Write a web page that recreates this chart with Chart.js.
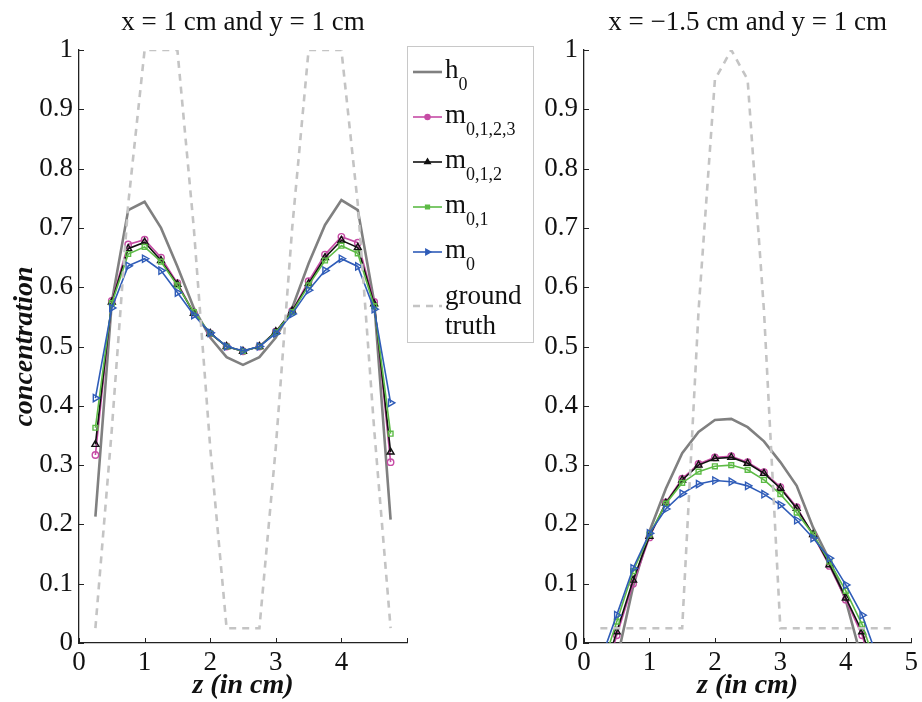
<!DOCTYPE html>
<html>
<head>
<meta charset="utf-8">
<script src="https://cdn.jsdelivr.net/npm/chart.js@4.4.1/dist/chart.umd.min.js"></script>
<style>
  html, body { margin: 0; padding: 0; background: #fff; }
  #wrap { position: relative; width: 922px; height: 702px; overflow: hidden; }
  canvas { position: absolute; top: 0; }
  #leftChart { left: 0; }
  #rightChart { left: 540px; }
</style>
</head>
<body>
<div id="wrap">
  <canvas id="leftChart" width="540" height="702"></canvas>
  <canvas id="rightChart" width="382" height="702"></canvas>
</div>
<script>
// depth positions (cm)
const zPos = [0.25, 0.5, 0.75, 1.0, 1.25, 1.5, 1.75, 2.0, 2.25, 2.5, 2.75, 3.0, 3.25, 3.5, 3.75, 4.0, 4.25, 4.5, 4.75];

// left panel: x = 1 cm, y = 1 cm
const h0Left    = [0.213, 0.575, 0.730, 0.744, 0.700, 0.635, 0.565, 0.515, 0.482, 0.469, 0.482, 0.515, 0.565, 0.640, 0.705, 0.747, 0.730, 0.575, 0.208];
const m0123Left = [0.317, 0.577, 0.672, 0.680, 0.650, 0.607, 0.557, 0.522, 0.500, 0.492, 0.500, 0.525, 0.560, 0.610, 0.655, 0.685, 0.675, 0.575, 0.305];
const m012Left  = [0.335, 0.575, 0.665, 0.676, 0.645, 0.605, 0.556, 0.522, 0.500, 0.492, 0.500, 0.525, 0.560, 0.606, 0.650, 0.679, 0.667, 0.572, 0.322];
const m01Left   = [0.363, 0.573, 0.656, 0.668, 0.643, 0.603, 0.558, 0.522, 0.500, 0.492, 0.500, 0.524, 0.558, 0.603, 0.645, 0.670, 0.657, 0.568, 0.353];
const m0Left    = [0.413, 0.565, 0.636, 0.648, 0.628, 0.591, 0.553, 0.523, 0.500, 0.493, 0.500, 0.522, 0.555, 0.595, 0.628, 0.648, 0.635, 0.563, 0.405];
const gtLeft    = [0.025, 0.360, 0.740, 1.000, 1.000, 1.000, 0.700, 0.330, 0.025, 0.025, 0.025, 0.330, 0.700, 1.000, 1.000, 1.000, 0.740, 0.360, 0.025];

// right panel: x = -1.5 cm, y = 1 cm
const h0Right    = [-0.150, -0.030, 0.095, 0.188, 0.260, 0.320, 0.356, 0.376, 0.378, 0.364, 0.340, 0.305, 0.265, 0.195, 0.140, 0.072, -0.030, -0.130, -0.250];
const m0123Right = [-0.080, 0.013, 0.100, 0.178, 0.237, 0.277, 0.302, 0.313, 0.315, 0.305, 0.288, 0.263, 0.229, 0.182, 0.130, 0.073, 0.013, -0.080, -0.170];
const m012Right  = [-0.070, 0.019, 0.106, 0.180, 0.236, 0.275, 0.300, 0.311, 0.313, 0.303, 0.286, 0.261, 0.227, 0.183, 0.132, 0.076, 0.019, -0.070, -0.160];
const m01Right   = [-0.050, 0.036, 0.121, 0.183, 0.235, 0.270, 0.289, 0.298, 0.300, 0.292, 0.275, 0.251, 0.220, 0.183, 0.137, 0.088, 0.031, -0.050, -0.130];
const m0Right    = [-0.030, 0.047, 0.126, 0.185, 0.226, 0.252, 0.268, 0.274, 0.272, 0.265, 0.251, 0.233, 0.207, 0.177, 0.143, 0.098, 0.047, -0.030, -0.110];
const gtRight    = [0.025, 0.025, 0.025, 0.025, 0.025, 0.025, 0.560, 0.950, 1.000, 0.950, 0.560, 0.025, 0.025, 0.025, 0.025, 0.025, 0.025, 0.025, 0.025];

const xTicks = [0, 1, 2, 3, 4, 5];
const yTicks = [0, 0.1, 0.2, 0.3, 0.4, 0.5, 0.6, 0.7, 0.8, 0.9, 1];

const seriesNames = ["h", "m", "m", "m", "m", "ground truth"];
const seriesSubs = ["0", "0,1,2,3", "0,1,2", "0,1", "0", ""];

const SERIF = '"Liberation Serif", "Times New Roman", serif';
Chart.defaults.font.family = SERIF;
Chart.defaults.color = "#111";

const pts = arr => zPos.map((z, i) => ({ x: z, y: arr[i] }));

function makeDatasets(h0, m0123, m012, m01, m0, gt) {
    return [
        { data: pts(h0), borderColor: "#808080", borderWidth: 2.6, pointRadius: 0, order: 6 },
        { data: pts(m0123), borderColor: "#c64ca5", borderWidth: 1.6, pointStyle: "circle", pointRadius: 3.2,
          pointBorderWidth: 1.4, pointBackgroundColor: "rgba(255,255,255,0)", pointBorderColor: "#c64ca5", order: 5 },
        { data: pts(m012), borderColor: "#111111", borderWidth: 1.6, pointStyle: "triangle", pointRadius: 4,
          pointBorderWidth: 1.4, pointBackgroundColor: "rgba(255,255,255,0)", pointBorderColor: "#111111", order: 4 },
        { data: pts(m01), borderColor: "#5dbb46", borderWidth: 1.6, pointStyle: "rect", pointRadius: 3.4,
          pointBorderWidth: 1.4, pointBackgroundColor: "rgba(255,255,255,0)", pointBorderColor: "#5dbb46", order: 3 },
        { data: pts(m0), borderColor: "#2f5cb8", borderWidth: 1.6, pointStyle: "triangle", pointRotation: 90, pointRadius: 4.2,
          pointBorderWidth: 1.4, pointBackgroundColor: "rgba(255,255,255,0)", pointBorderColor: "#2f5cb8", order: 2 },
        { data: pts(gt), borderColor: "#c4c4c4", borderWidth: 2.6, borderDash: [7, 6], pointRadius: 0, order: 1 }
    ];
}

// titles centred over the plot area
const plotTitle = {
    id: "plotTitle",
    afterDraw(chart, args, opts) {
        const { ctx, chartArea } = chart;
        ctx.save();
        ctx.font = "27px " + SERIF;
        ctx.fillStyle = "#111";
        ctx.textAlign = "center";
        ctx.textBaseline = "alphabetic";
        ctx.fillText(opts.text, (chartArea.left + chartArea.right) / 2, 30);
        ctx.restore();
    }
};

// MATLAB-style ticks pointing into the axes
const innerTicks = {
    id: "innerTicks",
    afterDraw(chart) {
        const { ctx, chartArea, scales } = chart;
        ctx.save();
        ctx.strokeStyle = "#222";
        ctx.lineWidth = 1;
        ctx.beginPath();
        scales.x.ticks.forEach(t => {
            const px = Math.round(scales.x.getPixelForValue(t.value)) + 0.5;
            ctx.moveTo(px, chartArea.bottom);
            ctx.lineTo(px, chartArea.bottom - 5);
        });
        scales.y.ticks.forEach(t => {
            const py = Math.round(scales.y.getPixelForValue(t.value)) + 0.5;
            ctx.moveTo(chartArea.left, py);
            ctx.lineTo(chartArea.left + 5, py);
        });
        ctx.stroke();
        ctx.restore();
    }
};

// legend box to the right of the left panel, with subscripts
const sideLegend = {
    id: "sideLegend",
    afterDraw(chart, args, opts) {
        if (!opts.show) return;
        const ctx = chart.ctx;
        const rowsY = [72, 117, 162, 207, 252, 306];
        ctx.save();
        ctx.fillStyle = "#fff";
        ctx.fillRect(407.5, 46.5, 126, 296);
        ctx.strokeStyle = "#c8c8c8";
        ctx.lineWidth = 1;
        ctx.strokeRect(407.5, 46.5, 126, 296);
        chart.data.datasets.forEach((ds, i) => {
            const y = rowsY[i];
            ctx.save();
            ctx.strokeStyle = ds.borderColor;
            ctx.lineWidth = ds.borderWidth;
            ctx.setLineDash(ds.borderDash || []);
            ctx.beginPath();
            ctx.moveTo(413, y);
            ctx.lineTo(442, y);
            ctx.stroke();
            ctx.restore();
            if (ds.pointRadius > 0) {
                ctx.save();
                ctx.strokeStyle = ds.pointBorderColor;
                ctx.fillStyle = ds.pointBorderColor;
                ctx.lineWidth = ds.pointBorderWidth;
                Chart.helpers.drawPoint(ctx, {
                    pointStyle: ds.pointStyle, radius: ds.pointRadius * 0.8,
                    rotation: ds.pointRotation || 0, borderWidth: ds.pointBorderWidth
                }, 427.5, y);
                ctx.restore();
            }
            ctx.fillStyle = "#111";
            ctx.textBaseline = "alphabetic";
            ctx.textAlign = "left";
            if (seriesSubs[i]) {
                ctx.font = "27px " + SERIF;
                ctx.fillText(seriesNames[i], 445, y + 6);
                const w = ctx.measureText(seriesNames[i]).width;
                ctx.font = "18px " + SERIF;
                ctx.fillText(seriesSubs[i], 445 + w, y + 18);
            } else {
                const words = seriesNames[i].split(" ");
                ctx.font = "27px " + SERIF;
                ctx.fillText(words[0], 445, y - 2);
                ctx.fillText(words[1], 445, y + 28);
            }
        });
        ctx.restore();
    }
};

function makeChart(id, datasets, title, yWidth, padRight, showLegend, showYTitle, last) {
    const el = /** @type {HTMLCanvasElement} */ (document.getElementById(id));
    return new Chart(el.getContext("2d"), {
        type: "line",
        data: { datasets },
        plugins: [plotTitle, innerTicks, sideLegend],
        options: {
            responsive: false,
            animation: false,
            devicePixelRatio: 1,
            layout: { padding: { top: 50, right: padRight, bottom: 0, left: 0 } },
            elements: { line: { tension: 0 } },
            plugins: {
                legend: { display: false },
                tooltip: { enabled: false },
                plotTitle: { text: title },
                sideLegend: { show: showLegend }
            },
            scales: {
                x: {
                    type: "linear",
                    min: 0,
                    max: 5,
                    afterBuildTicks: s => { s.ticks = xTicks.map(v => ({ value: v })); },
                    afterFit: s => { s.height = 59; },
                    grid: { drawOnChartArea: false, drawTicks: false },
                    border: { display: true, color: "#222", width: 1.3 },
                    ticks: {
                        padding: 4,
                        font: { size: 27 },
                        color: "#111",
                        callback: v => (v === last ? "" : String(v))
                    },
                    title: {
                        display: true,
                        text: "z (in cm)",
                        font: { size: 28, style: "italic", weight: "bold" },
                        color: "#111",
                        padding: { top: 0, bottom: -1 }
                    }
                },
                y: {
                    type: "linear",
                    min: 0,
                    max: 1,
                    afterBuildTicks: s => { s.ticks = yTicks.map(v => ({ value: v })); },
                    afterFit: s => { s.width = yWidth; },
                    grid: { drawOnChartArea: false, drawTicks: false },
                    border: { display: true, color: "#222", width: 1.3 },
                    ticks: {
                        padding: 6,
                        font: { size: 27 },
                        color: "#111",
                        callback: v => String(Math.round(v * 10) / 10)
                    },
                    title: {
                        display: showYTitle,
                        text: "concentration",
                        font: { size: 28, style: "italic", weight: "bold" },
                        color: "#111",
                        padding: { top: 8, bottom: 0 }
                    }
                }
            }
        }
    });
}

makeChart("leftChart", makeDatasets(h0Left, m0123Left, m012Left, m01Left, m0Left, gtLeft),
    "x = 1 cm and y = 1 cm", 79, 133, true, true, 5);
makeChart("rightChart", makeDatasets(h0Right, m0123Right, m012Right, m01Right, m0Right, gtRight),
    "x = \u22121.5 cm and y = 1 cm", 44, 9, false, false, null);
</script>
</body>
</html>
